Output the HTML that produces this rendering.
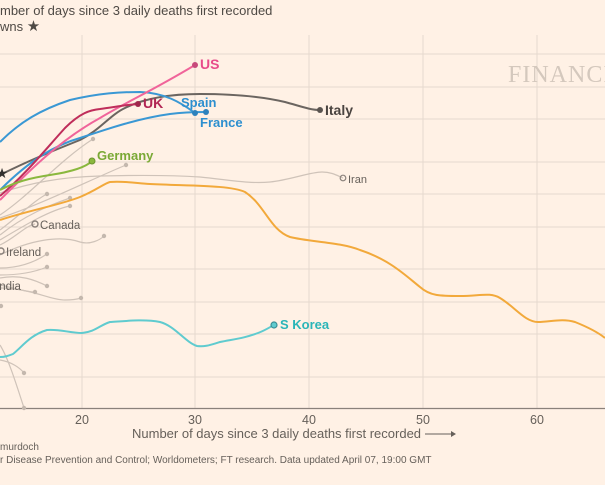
<!DOCTYPE html>
<html><head><meta charset="utf-8"><style>
html,body{margin:0;padding:0;background:#fff1e5;}
svg{display:block;font-family:"Liberation Sans",sans-serif;}
</style></head><body>
<svg width="605" height="485" viewBox="0 0 605 485" xmlns="http://www.w3.org/2000/svg">
<rect width="605" height="485" fill="#fff1e5"/>
<text x="0" y="15" font-size="13" fill="#4f4a45" text-anchor="end">Nu</text>
<text x="0" y="15" font-size="13" fill="#4f4a45">mber of days since 3 daily deaths first recorded</text>
<text x="0" y="31" font-size="13" fill="#4f4a45" text-anchor="end">Lockdo</text>
<text x="0" y="31" font-size="13" fill="#4f4a45">wns <tspan font-size="15">★</tspan></text>
<g stroke="#e6d9ce" stroke-width="1">
<line x1="0" y1="54" x2="605" y2="54"/><line x1="0" y1="87" x2="605" y2="87"/>
<line x1="0" y1="119" x2="605" y2="119"/><line x1="0" y1="162" x2="605" y2="162"/>
<line x1="0" y1="194" x2="605" y2="194"/><line x1="0" y1="227" x2="605" y2="227"/>
<line x1="0" y1="269" x2="605" y2="269"/><line x1="0" y1="302" x2="605" y2="302"/>
<line x1="0" y1="334" x2="605" y2="334"/><line x1="0" y1="377" x2="605" y2="377"/>
<line x1="82" y1="35" x2="82" y2="408"/><line x1="195" y1="35" x2="195" y2="408"/>
<line x1="309" y1="35" x2="309" y2="408"/><line x1="423" y1="35" x2="423" y2="408"/>
<line x1="537" y1="35" x2="537" y2="408"/>
</g>
<line x1="0" y1="408.5" x2="605" y2="408.5" stroke="#8a817b" stroke-width="1.2"/>
<text x="508" y="82" font-family="Liberation Serif,serif" font-size="24" fill="#d4c8bd" letter-spacing="1">FINANCIAL</text>
<g fill="none" stroke="#cfc3b9" stroke-width="1.2">
<path d="M0,193 C30,183 60,177 100,176 C140,175 170,175 200,177 C230,180 250,184 270,182 C290,180 310,172 322,172 C332,172 338,176 343,178"/>
<path d="M0,215 C30,195 60,160 93,139"/>
<path d="M0,218 C40,205 90,180 126,165"/>
<path d="M0,230 C20,215 35,200 47,194"/>
<path d="M0,235 C25,215 50,205 70,198"/>
<path d="M0,240 C25,225 50,210 70,206"/>
<path d="M0,255 C30,240 60,235 80,242 C90,245 100,240 104,236"/>
<path d="M0,245 C15,238 25,226 35,224"/>
<path d="M0,268 C20,268 35,262 47,254"/>
<path d="M0,275 C20,275 35,272 47,267"/>
<path d="M0,278 C20,274 35,280 47,286"/>
<path d="M0,285 C15,288 25,292 35,292"/>
<path d="M0,288 C30,288 50,300 65,300 C72,300 78,299 81,298"/>
<path d="M0,360 C12,362 20,368 24,373"/>
<path d="M0,345 C8,358 15,380 24,408"/>
</g>
<g fill="#c4b8ae">
<circle cx="93" cy="139" r="2.2"/><circle cx="126" cy="165" r="2.2"/><circle cx="47" cy="194" r="2.2"/>
<circle cx="70" cy="198" r="2.2"/><circle cx="70" cy="206" r="2.2"/><circle cx="104" cy="236" r="2.2"/>
<circle cx="47" cy="254" r="2.2"/><circle cx="47" cy="267" r="2.2"/><circle cx="47" cy="286" r="2.2"/>
<circle cx="35" cy="292" r="2.2"/><circle cx="81" cy="298" r="2.2"/><circle cx="1" cy="306" r="2.2"/>
<circle cx="24" cy="373" r="2.2"/><circle cx="24" cy="408" r="2.2"/>
</g>
<circle cx="343" cy="178" r="2.8" fill="none" stroke="#8a817b" stroke-width="1.2"/>
<text x="348" y="183" font-size="11" fill="#66605a">Iran</text>
<circle cx="35" cy="224" r="3" fill="none" stroke="#8a817b" stroke-width="1.4"/>
<text x="40" y="229" font-size="11.5" fill="#66605a">Canada</text>
<circle cx="1" cy="251" r="3" fill="none" stroke="#8a817b" stroke-width="1.4"/>
<text x="6" y="256" font-size="11.5" fill="#66605a">Ireland</text>
<text x="-4" y="290" font-size="11.5" fill="#66605a">India</text>
<path d="M0,220 C30,210 60,205 80,197 C95,191 105,183 110,182 C125,181 135,183 150,184 C190,186 230,185 245,192 C265,205 270,230 290,237 C310,242 340,242 360,250 C390,260 405,275 420,287 C430,296 440,296 460,296 C480,296 490,292 500,298 C515,307 525,322 538,322 C550,322 562,318 575,322 C590,328 600,334 605,338" fill="none" stroke="#f2a93b" stroke-width="2"/>
<path d="M0,357 C5,357 8,356 13,354 C22,347 30,335 47,330 C60,329 70,333 82,333 C95,332 100,325 110,322 C125,321 145,319 160,322 C175,326 185,342 197,346 C205,347 210,345 220,342 C235,339 245,338 258,333 C266,330 270,327 274,325" fill="none" stroke="#5fcbcf" stroke-width="2"/>
<circle cx="274" cy="325" r="3" fill="#5fcbcf" stroke="#3a8f96" stroke-width="1.2"/>
<text x="280" y="329" font-size="13" font-weight="bold" fill="#2bb5b8">S Korea</text>
<path d="M0,175 C30,160 55,150 80,140 C100,130 110,115 125,108 C145,98 170,94 200,94 C230,94 260,96 285,102 C300,106 310,110 320,110" fill="none" stroke="#6b6560" stroke-width="2"/>
<circle cx="320" cy="110" r="3" fill="#5a5450"/>
<text x="325" y="115" font-size="14" font-weight="bold" fill="#4a4440">Italy</text>
<path d="M0,142 C20,122 40,110 70,100 C100,93 120,92 140,92 C165,93 180,102 195,113" fill="none" stroke="#3a98d4" stroke-width="2"/>
<path d="M0,190 C30,160 55,145 80,138 C110,128 140,118 170,114 C185,112 195,112 206,112" fill="none" stroke="#3a98d4" stroke-width="2"/>
<circle cx="195" cy="113" r="3" fill="#2d82bd"/><circle cx="206" cy="112" r="3" fill="#2d82bd"/>
<text x="181" y="107" font-size="13" font-weight="bold" fill="#2d8fcf">Spain</text>
<text x="200" y="127" font-size="13" font-weight="bold" fill="#2d8fcf">France</text>
<path d="M0,200 C30,170 60,140 100,118 C130,100 150,92 195,65" fill="none" stroke="#f0649a" stroke-width="2"/>
<circle cx="195" cy="65" r="3" fill="#c74a7b"/>
<text x="200" y="69" font-size="14" font-weight="bold" fill="#e84b8a">US</text>
<path d="M0,196 C25,175 45,150 65,128 C80,113 90,110 100,109 C115,107 125,105 138,104" fill="none" stroke="#bf2d5a" stroke-width="2"/>
<circle cx="138" cy="104" r="3" fill="#a0264c"/>
<text x="143" y="108" font-size="14" font-weight="bold" fill="#b22654">UK</text>
<path d="M0,190 C15,182 30,178 50,175 C70,172 85,168 92,161" fill="none" stroke="#8ab83e" stroke-width="2"/>
<circle cx="92" cy="161" r="3" fill="#8ab83e" stroke="#6d9530" stroke-width="1"/>
<text x="97" y="160" font-size="13" font-weight="bold" fill="#7aa935">Germany</text>
<text x="2" y="178" font-size="14" fill="#33302e" text-anchor="middle">★</text>
<g font-size="12.5" fill="#66605a" text-anchor="middle">
<text x="82" y="424">20</text><text x="195" y="424">30</text><text x="309" y="424">40</text>
<text x="423" y="424">50</text><text x="537" y="424">60</text>
</g>
<text x="132" y="438" font-size="13" fill="#66605a">Number of days since 3 daily deaths first recorded</text>
<line x1="425" y1="434" x2="452" y2="434" stroke="#66605a" stroke-width="1"/>
<path d="M451,431 L456,434 L451,437 Z" fill="#66605a"/>
<text x="0" y="450" font-size="10" fill="#66605a" text-anchor="end">Graphic: John Burn-</text>
<text x="0" y="450" font-size="10" fill="#66605a">murdoch</text>
<text x="0" y="463" font-size="10" fill="#66605a" text-anchor="end">Source: European Centre fo</text>
<text x="0" y="463" font-size="10" fill="#66605a">r Disease Prevention and Control; Worldometers; FT research. Data updated April 07, 19:00 GMT</text>
</svg>
</body></html>
